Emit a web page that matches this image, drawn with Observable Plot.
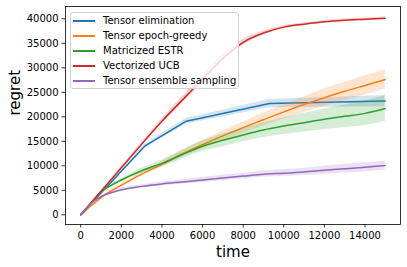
<!DOCTYPE html>
<html><head><meta charset="utf-8">
<script src="https://cdn.jsdelivr.net/npm/d3@7"></script>
<script src="https://cdn.jsdelivr.net/npm/@observablehq/plot@0.6"></script>
<style>
body{margin:0;background:#fff;}
#wrap{position:relative;width:407px;height:267px;font-family:"DejaVu Sans",sans-serif;}
#wrap svg{display:block;overflow:visible;}
.legend{position:absolute;left:70px;top:11.5px;width:169px;height:77.5px;border:1px solid #d2d2d2;border-radius:3px;background:rgba(255,255,255,0.8);box-sizing:border-box;}
.item{position:absolute;left:0;height:14px;font-size:10px;line-height:14px;color:#000;white-space:nowrap;}
.sw{position:absolute;left:2px;top:6px;width:22px;height:2px;}
.lab{position:absolute;left:32px;top:0;}
</style>
</head><body>
<div id="wrap"></div>
<script>
const seriesNames = ["Tensor elimination", "Tensor epoch-greedy", "Matricized ESTR", "Vectorized UCB", "Tensor ensemble sampling"];
const seriesColors = ["#1f77b4", "#ff7f0e", "#2ca02c", "#d62728", "#9467bd"];
const seriesCurves = ["linear", "monotone-x", "monotone-x", "monotone-x", "monotone-x"];

const time = [0,500,1000,1500,2000,3000,4000,5000,6000,7000,8000,9000,10000,11000,12000,13000,14000,15000];
const elimTime = [0,3150,5200,9300,15000];

const elimMean   = [0,14000,19100,22700,23200];
const elimSpread = [0,400,550,850,1150];

const epochMean   = [0,1800,3500,4900,6000,8300,10300,12400,14300,16100,17800,19400,21000,22500,23900,25200,26400,27600];
const epochSpread = [0,50,100,150,250,400,550,700,850,1000,1150,1300,1450,1600,1750,1850,1950,2000];

const estrMean   = [0,2300,4700,6000,7100,9000,10500,12300,14000,15200,16300,17300,18100,18800,19500,20100,20700,21700];
const estrSpread = [0,50,100,200,300,500,700,900,1100,1300,1400,1500,1700,1900,2100,2300,2500,2600];

const ucbMean   = [0,2400,4800,7200,9600,14400,19100,23400,27700,31900,35200,37100,38300,38900,39400,39700,39900,40100];
const ucbSpread = [0,100,150,200,250,350,500,700,800,800,600,400,300,250,250,250,250,250];

const ensMean   = [0,2300,3700,4500,5100,5800,6300,6700,7100,7500,7900,8300,8500,8750,9100,9400,9700,10050];
const ensSpread = [0,100,200,250,300,350,400,450,500,550,600,650,700,750,800,850,900,950];

const xTicks = [0,2000,4000,6000,8000,10000,12000,14000];
const yTicks = [0,5000,10000,15000,20000,25000,30000,35000,40000];

function rows(t, m, s) {
  return t.map((x, i) => ({t: x, y: m[i], lo: m[i] - s[i], hi: m[i] + s[i]}));
}
const series = [
  rows(elimTime, elimMean, elimSpread),
  rows(time, epochMean, epochSpread),
  rows(time, estrMean, estrSpread),
  rows(time, ucbMean, ucbSpread),
  rows(time, ensMean, ensSpread)
];

const marks = [];
series.forEach((d, i) => {
  marks.push(Plot.areaY(d, {x: "t", y1: "lo", y2: "hi", fill: seriesColors[i], fillOpacity: 0.2, curve: seriesCurves[i]}));
  marks.push(Plot.line(d, {x: "t", y: "y", stroke: seriesColors[i], strokeWidth: 1.5, curve: seriesCurves[i]}));
});

const chart = Plot.plot({
  width: 407,
  height: 267,
  marginTop: 6,
  marginBottom: 43,
  marginLeft: 65,
  marginRight: 7,
  style: {fontFamily: "DejaVu Sans, sans-serif", fontSize: "10px", color: "#000", background: "#fff"},
  x: {domain: [-750, 15750]},
  y: {domain: [-1980, 42510]},
  marks: [
    ...marks,
    Plot.axisX({ticks: xTicks, tickSize: 3.5, tickPadding: 3.5, tickFormat: d3.format("d"), label: null, strokeWidth: 0.8}),
    Plot.axisY({ticks: yTicks, tickSize: 3.5, tickPadding: 3.5, tickFormat: d3.format("d"), label: null, strokeWidth: 0.8}),
    Plot.frame({stroke: "#000", strokeWidth: 0.8}),
    Plot.text(["time"], {frameAnchor: "bottom", dy: 28, lineAnchor: "middle", fontSize: 15, fill: "#000"}),
    Plot.text(["regret"], {frameAnchor: "left", dx: -50, rotate: -90, lineAnchor: "middle", fontSize: 15, fill: "#000"})
  ]
});

const wrap = document.getElementById("wrap");
wrap.appendChild(chart);

const legend = document.createElement("div");
legend.className = "legend";
seriesNames.forEach((name, i) => {
  const item = document.createElement("div");
  item.className = "item";
  item.style.top = (1.3 + i * 14.95) + "px";
  const sw = document.createElement("div");
  sw.className = "sw";
  sw.style.background = seriesColors[i];
  const lab = document.createElement("div");
  lab.className = "lab";
  lab.textContent = name;
  item.appendChild(sw);
  item.appendChild(lab);
  legend.appendChild(item);
});
wrap.appendChild(legend);
</script>
</body></html>
